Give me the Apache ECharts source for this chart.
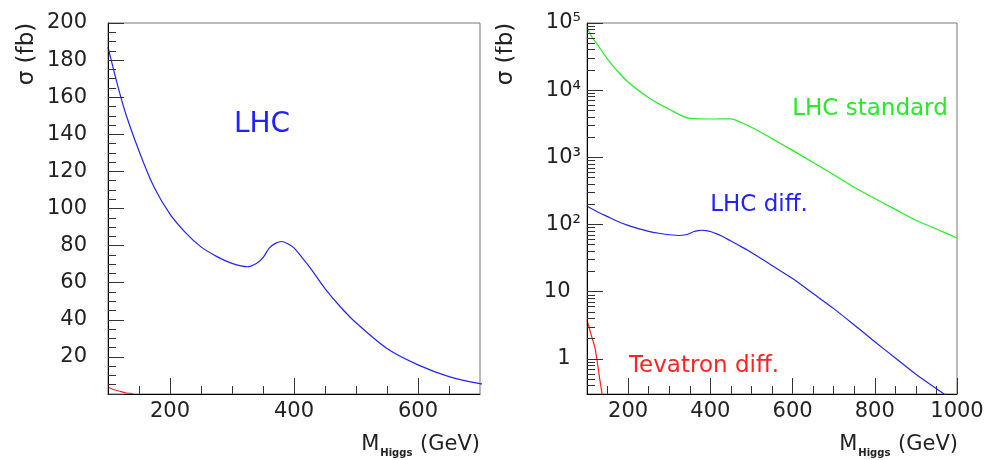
<!DOCTYPE html>
<html><head><meta charset="utf-8">
<script src="https://cdn.jsdelivr.net/npm/echarts@6/dist/echarts.min.js"></script>
<style>html,body{margin:0;padding:0;background:#fff}
#wrap{position:relative;width:990px;height:460px}
.half{position:absolute;top:0;width:495px;height:460px}
#cl,#tl{left:0} #cr,#tr{left:495px}
#tl,#tr{z-index:2}</style>
</head><body><div id="wrap"><div class="half" id="cl"></div><div class="half" id="cr"></div><div class="half" id="tl"></div><div class="half" id="tr"></div></div>
<script>
// ---- data ----
const diffMass = [100,125,150,175,200,225,250,275,300,325,340,350,360,370,380,390,400,410,425,450,475,500,550,600,650,700,750,800,850,900,950,975];
const lhcDiff  = [187,155,131,111,97,87,79.3,74.2,70.4,68.6,70.5,73.5,78.6,81.2,82.2,81,78.8,74.8,68.5,56.8,46.9,38.4,24.5,15.7,9.4,5.6,3.2,1.8,1.03,0.59,0.36,0.28];
const stdMass  = [100,112,125,150,175,200,250,300,350,400,425,450,475,500,550,600,650,700,750,800,850,900,950,1000];
const lhcStd   = [87000,62000,48000,29000,19000,13200,7700,5200,3800,3720,3730,3740,3300,2800,1900,1270,840,550,360,244,168,116,86,63];
const tevMass  = [100,110,120,130,140];
const tevDiff  = [3.8,2.3,1.4,0.55,0.22];

// ---- ticks and tick labels ----
const leftXMajor = [200,400,600];
const leftXMinor = [150,250,300,350,450,500,550,650];
const rightXMajor = [200,400,600,800,1000];
const rightXMinor = [150,250,300,350,450,500,550,650,700,750,850,900,950];
const rightYMajor = [1,10,100,1000,10000,100000];
const rightYLabels = ['1\u2002','10\u2002','10\u00b2','10\u00b3','10\u2074','10\u2075'];
const rightYMinor = [0.4,0.5,0.6,0.7,0.8,0.9,2,3,4,5,6,7,8,9,20,30,40,50,60,70,80,90,200,300,400,500,600,700,800,900,2000,3000,4000,5000,6000,7000,8000,9000,20000,30000,40000,50000,60000,70000,80000,90000];
const rightYMin = 0.3, rightYMax = 100000;

const FONT = 'DejaVu Sans';
const TXT = '#222';
const BLUE = '#2222ff', GREEN = '#22ee22', RED = '#ff2222';
const lg = v => Math.log10(v);

const leftGrid = {left: 108, top: 23, width: 372, height: 371};
const rightGrid = {left: 92, top: 23, width: 370, height: 371};

function xAxis(min, max, ticks, len, labels) {
  return {
    type: 'value', gridIndex: 0, position: 'bottom', min, max,
    splitLine: {show: false},
    axisLine: {show: !!labels, onZero: false, lineStyle: {color: '#000', width: 1}},
    axisTick: {show: true, inside: true, length: len, customValues: ticks, lineStyle: {color: '#333', width: 1}},
    axisLabel: labels ? {show: true, customValues: labels, fontSize: 21, fontFamily: FONT, color: TXT, margin: 7, formatter: v => String(v)} : {show: false}
  };
}
function hiddenAxis(min, max) {
  return {type: 'value', gridIndex: 0, min, max, show: false, splitLine: {show: false}};
}
function axisTitle(x) {
  return {type: 'text', x: x, y: 445, style: {text: '{m|M}{s|Higgs}{m| (GeV)}', align: 'right', verticalAlign: 'middle',
    rich: {m: {fontSize: 21, fontFamily: FONT, fill: TXT, lineHeight: 26, verticalAlign: 'middle'},
           s: {fontSize: 10, fontWeight: 'bold', fontFamily: FONT, fill: TXT, lineHeight: 10, verticalAlign: 'bottom', padding: [0, 1, 0, 1]}}}};
}
function note(x, y, text, size, color) {
  return {type: 'text', x: x, y: y, style: {text: text, fontSize: size, fontFamily: FONT, fill: color, align: 'center', verticalAlign: 'middle'}};
}

// ---------- left chart (linear): frame, x axis, curves ----------
const leftOption = {
  animation: false,
  grid: [Object.assign({show: true, borderColor: '#777', borderWidth: 1}, leftGrid)],
  xAxis: [xAxis(100, 700, leftXMajor, 16, leftXMajor), xAxis(100, 700, leftXMinor, 8, null)],
  yAxis: [hiddenAxis(0, 200)],
  series: [
    {type: 'line', data: diffMass.map((m, i) => [m, lhcDiff[i]]), showSymbol: false, smooth: 0.3, clip: true, lineStyle: {color: BLUE, width: 1.2}},
    {type: 'line', data: tevMass.map((m, i) => [m, tevDiff[i]]), showSymbol: false, smooth: 0.3, clip: true, lineStyle: {color: RED, width: 1.2}}
  ],
  graphic: [
    {type: 'text', x: 27, y: 54, rotation: Math.PI / 2, style: {text: 'σ (fb)', fontSize: 23, fontFamily: FONT, fill: TXT, align: 'center', verticalAlign: 'middle'}},
    axisTitle(480),
    note(262, 125, 'LHC', 28, BLUE)
  ]
};
// left y axis (own layer)
const leftYOption = {
  animation: false,
  grid: [Object.assign({show: false}, leftGrid)],
  xAxis: [hiddenAxis(100, 700)],
  yAxis: [{
    type: 'value', gridIndex: 0, position: 'left', min: 0, max: 200, interval: 20,
    splitLine: {show: false},
    axisLine: {show: true, onZero: false, lineStyle: {color: '#000', width: 1}},
    axisTick: {show: true, inside: true, length: 16, lineStyle: {color: '#333', width: 1}},
    minorTick: {show: true, splitNumber: 4, length: 8, lineStyle: {color: '#333', width: 1}},
    axisLabel: {show: true, fontSize: 21, fontFamily: FONT, color: TXT, margin: 21, formatter: v => (v > 0 ? String(v) : '')}
  }],
  series: []
};

// ---------- right chart (log, drawn on log10 of the values) ----------
const rightOption = {
  animation: false,
  grid: [Object.assign({show: true, borderColor: '#777', borderWidth: 1}, rightGrid)],
  xAxis: [xAxis(100, 1000, rightXMajor, 16, rightXMajor), xAxis(100, 1000, rightXMinor, 8, null)],
  yAxis: [hiddenAxis(lg(rightYMin), lg(rightYMax))],
  series: [
    {type: 'line', data: stdMass.map((m, i) => [m, lg(lhcStd[i])]), showSymbol: false, smooth: 0.3, clip: true, lineStyle: {color: GREEN, width: 1.2}},
    {type: 'line', data: diffMass.map((m, i) => [m, lg(lhcDiff[i])]), showSymbol: false, smooth: 0.3, clip: true, lineStyle: {color: BLUE, width: 1.2}},
    {type: 'line', data: tevMass.map((m, i) => [m, lg(tevDiff[i])]), showSymbol: false, smooth: 0.3, clip: true, lineStyle: {color: RED, width: 1.2}}
  ],
  graphic: [
    {type: 'text', x: 11, y: 54, rotation: Math.PI / 2, style: {text: 'σ (fb)', fontSize: 23, fontFamily: FONT, fill: TXT, align: 'center', verticalAlign: 'middle'}},
    axisTitle(463),
    note(375, 109, 'LHC standard', 23, GREEN),
    note(264, 205, 'LHC diff.', 23, BLUE),
    note(209, 366, 'Tevatron diff.', 23, RED)
  ]
};
const rightLabelMap = {};
rightYMajor.forEach((v, i) => { rightLabelMap[lg(v).toFixed(4)] = rightYLabels[i]; });
const rightYOption = {
  animation: false,
  grid: [Object.assign({show: false}, rightGrid)],
  xAxis: [hiddenAxis(100, 1000)],
  yAxis: [
    {
      type: 'value', gridIndex: 0, position: 'left', min: lg(rightYMin), max: lg(rightYMax),
      splitLine: {show: false},
      axisLine: {show: true, onZero: false, lineStyle: {color: '#000', width: 1}},
      axisTick: {show: true, inside: true, length: 16, customValues: rightYMajor.map(lg), lineStyle: {color: '#333', width: 1}},
      axisLabel: {show: true, customValues: rightYMajor.map(lg), fontSize: 21, fontFamily: FONT, color: TXT, margin: 6,
        formatter: v => rightLabelMap[Number(v).toFixed(4)] || ''}
    },
    {
      type: 'value', gridIndex: 0, position: 'left', min: lg(rightYMin), max: lg(rightYMax),
      splitLine: {show: false},
      axisLine: {show: false, onZero: false},
      axisTick: {show: true, inside: true, length: 8, customValues: rightYMinor.map(lg), lineStyle: {color: '#333', width: 1}},
      axisLabel: {show: false}
    }
  ],
  series: []
};

echarts.init(document.getElementById('cl')).setOption(leftOption);
echarts.init(document.getElementById('cr')).setOption(rightOption);
echarts.init(document.getElementById('tl')).setOption(leftYOption);
echarts.init(document.getElementById('tr')).setOption(rightYOption);
</script>
</body></html>
